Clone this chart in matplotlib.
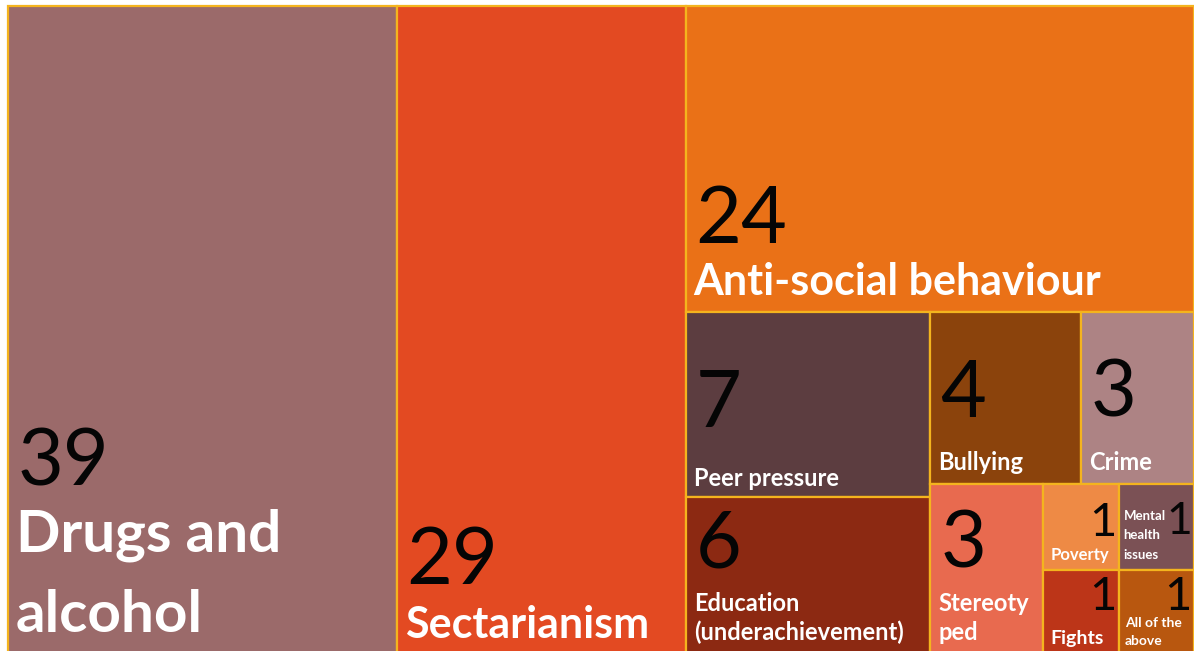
import matplotlib
matplotlib.use("Agg")
import matplotlib.pyplot as plt
from matplotlib.patches import Rectangle

# ---------------- data ----------------
categories = ["Drugs and alcohol", "Sectarianism", "Anti-social behaviour",
              "Peer pressure", "Education (underachievement)", "Bullying",
              "Crime", "Stereotyped", "Poverty", "Mental health issues",
              "Fights", "All of the above"]
values = [39, 29, 24, 7, 6, 4, 3, 3, 1, 1, 1, 1]
label_text = ["Drugs and\nalcohol", "Sectarianism", "Anti-social behaviour",
              "Peer pressure", "Education\n(underachievement)", "Bullying",
              "Crime", "Stereoty\nped", "Poverty", "Mental\nhealth\nissues",
              "Fights", "All of the\nabove"]
colors = ["#9B6A6A", "#E34A22", "#EA7117", "#5C3D40", "#8C2912", "#8B430C",
          "#AD8384", "#E86A4F", "#EE8A45", "#7B5155", "#BC3518", "#B8570F"]

# slice-and-dice nesting of the tiles (indices into the lists above)
tree = ("h", [0, 1,
              ("v", [2,
                     ("h", [("v", [3, 4]),
                            ("v", [("h", [5, 6]),
                                   ("h", [7, ("h", [("v", [8, 10]),
                                                    ("v", [9, 11])])])])])])])

# ---------------- styles (per tile) ----------------
num_size = [57, 57, 57, 57, 57, 57, 57, 57, 34, 32, 34, 34]
lab_size = [42, 31, 31, 17, 17, 17, 17, 17, 12, 9.5, 14, 10]
line_gap = [80, 0, 0, 0, 29, 0, 0, 29, 0, 19.5, 0, 18]
lab_off = [24, 18, 17, 11, 16, 14, 14, 16, 10, 11, 12, 11]
lab_pad = [8, 8, 8, 8, 8, 8, 8, 8, 7, 5, 7, 6]
num_off = [170, 72, 69, 70, 88, 67, 67, 88, 34, 36, 46, 46]
num_align = ["left"] * 8 + ["right"] * 4

FONT = "Lato"
BORDER = "#F4B41E"


def leaves(node):
    if isinstance(node, int):
        return [node]
    out = []
    for c in node[1]:
        out += leaves(c)
    return out


def layout(node, x, y, w, h, rects):
    if isinstance(node, int):
        rects[node] = (x, y, w, h)
        return
    orient, children = node
    sums = [sum(values[i] for i in leaves(c)) for c in children]
    tot = float(sum(sums))
    pos = 0.0
    for c, s in zip(children, sums):
        frac = s / tot
        if orient == "h":
            layout(c, x + pos * w, y, w * frac, h, rects)
        else:
            layout(c, x, y + pos * h, w, h * frac, rects)
        pos += frac


fig = plt.figure(figsize=(11.94, 6.51), dpi=100)
ax = fig.add_axes([0, 0, 1, 1])
ax.set_xlim(0, 1194)
ax.set_ylim(651, 0)
ax.axis("off")

rects = {}
layout(tree, 8, 6, 1186, 650, rects)

for i in range(len(values)):
    x, y, w, h = rects[i]
    patch = Rectangle((x, y), w, h, facecolor=colors[i], edgecolor=BORDER,
                      linewidth=1.6)
    ax.add_patch(patch)
    bottom = y + h
    lines = label_text[i].split("\n")
    n = len(lines)
    for k, line in enumerate(lines):
        by = bottom - lab_off[i] - (n - 1 - k) * line_gap[i]
        t = ax.text(x + lab_pad[i], by, line, color="white",
                    fontsize=lab_size[i], fontweight="bold", family=FONT,
                    ha="left", va="baseline")
        t.set_clip_path(patch)
    if num_align[i] == "left":
        tx, ha = x + 10, "left"
    else:
        tx, ha = x + w - 2, "right"
    t = ax.text(tx, bottom - num_off[i], str(values[i]), color="#050505",
                fontsize=num_size[i], family=FONT, ha=ha, va="baseline")
    t.set_clip_path(patch)

fig.savefig("out.png", dpi=100, facecolor="white")
